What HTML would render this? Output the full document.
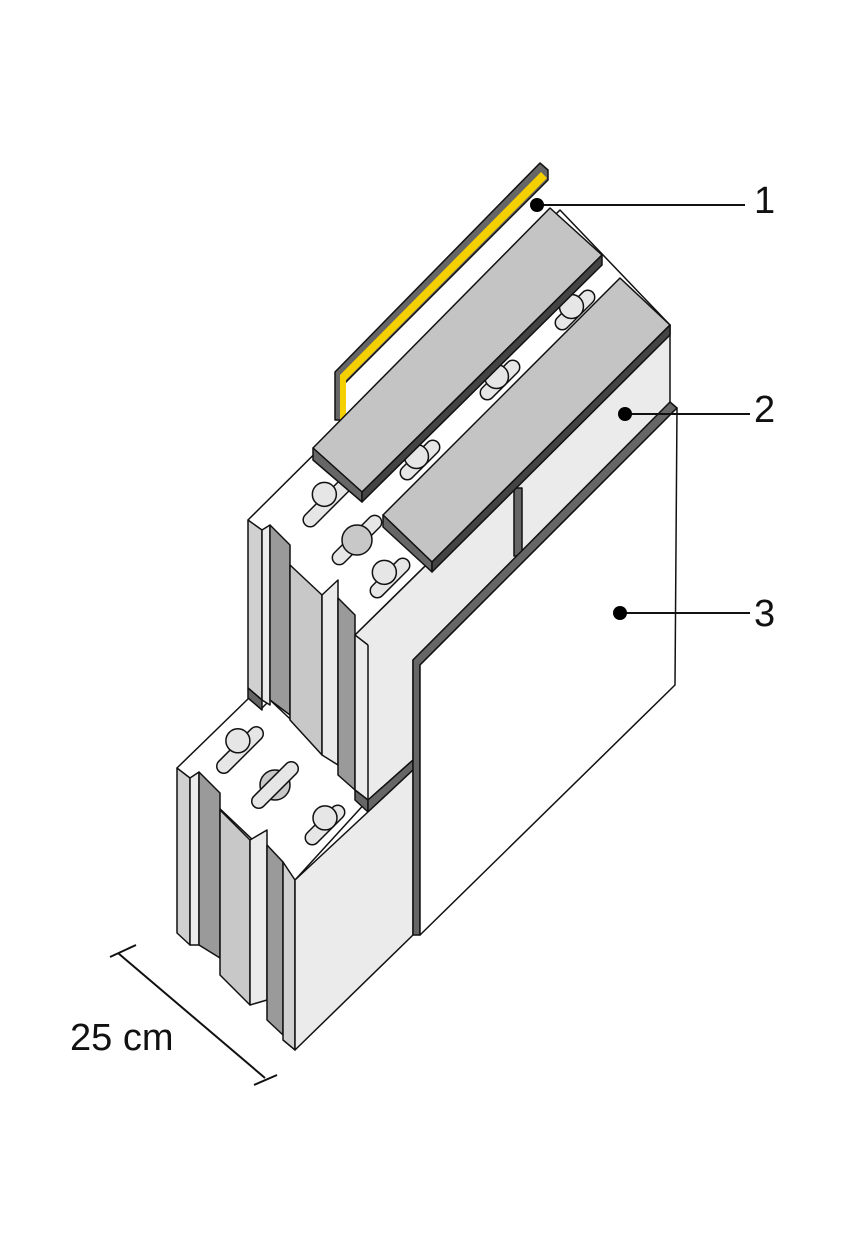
<!DOCTYPE html>
<html><head><style>body{margin:0;background:#fff}svg{display:block}</style></head><body>
<svg width="854" height="1250" viewBox="0 0 854 1250" xmlns="http://www.w3.org/2000/svg" stroke="#111" stroke-width="1.5" stroke-linejoin="round">
<rect width="854" height="1250" fill="#fff" stroke="none"/>
<!-- upper block top -->
<polygon points="248,520 560,210 670,325 355,635" fill="#fff"/>
<!-- lower block top -->
<polygon points="177,768 250,697 262,708 270,700 355,780 368,800 295,880" fill="#fff"/>
<!-- keyholes upper -->
<g fill="#e6e6e6">
<g transform="rotate(-45 330 500)"><rect x="295" y="493" width="70" height="14" rx="7"/><circle cx="330" cy="492" r="12"/></g>
<g transform="rotate(-45 357 540)"><rect x="325" y="533" width="64" height="14" rx="7"/></g>
<circle cx="357" cy="540" r="15" fill="#c8c8c8"/>
<g transform="rotate(-45 390 578)"><rect x="365" y="571" width="50" height="14" rx="7"/><circle cx="390" cy="570" r="12"/></g>
<g transform="rotate(-45 420 460)"><rect x="395" y="453" width="50" height="14" rx="7"/><circle cx="420" cy="455" r="12"/></g>
<g transform="rotate(-45 500 380)"><rect x="475" y="373" width="50" height="14" rx="7"/><circle cx="500" cy="375" r="12"/></g>
<g transform="rotate(-45 575 310)"><rect x="550" y="303" width="50" height="14" rx="7"/><circle cx="575" cy="305" r="12"/></g>
</g>
<!-- keyholes lower -->
<g fill="#e6e6e6">
<g transform="rotate(-45 240 750)"><rect x="210" y="743" width="60" height="14" rx="7"/><circle cx="245" cy="742" r="12"/></g>
<circle cx="275" cy="785" r="15" fill="#c8c8c8"/>
<g transform="rotate(-45 275 785)"><rect x="245" y="778" width="60" height="14" rx="7"/></g>
<g transform="rotate(-45 325 825)"><rect x="300" y="818" width="50" height="14" rx="7"/><circle cx="330" cy="820" r="12"/></g>
</g>
<!-- upper columns -->
<polygon points="248,520 262,530 262,700 248,688" fill="#d0d0d0"/>
<polygon points="262,530 270,525 270,705 262,700" fill="#ebebeb"/>
<polygon points="270,525 290,545 290,715 270,700" fill="#9a9a9a"/>
<polygon points="290,565 322,595 322,755 290,720" fill="#c8c8c8"/>
<polygon points="322,595 338,580 338,765 322,755" fill="#ebebeb"/>
<polygon points="338,598 355,615 355,790 338,775" fill="#9a9a9a"/>
<polygon points="248,688 262,700 262,710 248,698" fill="#666"/>
<!-- lower columns -->
<polygon points="177,768 190,778 190,945 177,933" fill="#d0d0d0"/>
<polygon points="190,778 199,772 199,945 190,945" fill="#ebebeb"/>
<polygon points="199,772 220,793 220,958 199,945" fill="#9a9a9a"/>
<polygon points="220,810 250,840 250,1005 220,975" fill="#c8c8c8"/>
<polygon points="250,840 267,830 267,1000 250,1005" fill="#ebebeb"/>
<polygon points="267,845 283,862 283,1035 267,1020" fill="#9a9a9a"/>
<polygon points="283,862 295,880 295,1050 283,1040" fill="#d0d0d0"/>
<!-- upper front face -->
<polygon points="355,635 670,325 670,405 413,660 413,760 368,800 355,790" fill="#ebebeb"/>
<polygon points="355,790 368,800 368,812 355,800" fill="#666"/>
<polygon points="368,800 413,760 413,770 368,812" fill="#666"/>
<line x1="355" y1="635" x2="368" y2="645" /><line x1="368" y1="645" x2="368" y2="800"/>
<rect x="514" y="488" width="8" height="68" fill="#666"/>
<!-- lower front face -->
<polygon points="295,880 413,770 413,935 295,1050" fill="#ebebeb"/>
<!-- panel 3 -->
<polygon points="413,660 670,402 677,408 420,665 420,935 413,935" fill="#666"/>
<polygon points="420,665 677,408 675,685 420,935" fill="#fff"/>
<!-- yellow strip -->
<polygon points="335,372 540,163 548,170 548,180 343,385 343,420 335,420" fill="#666"/>
<polygon points="340,375 541,172 547,178 346,380 346,420 340,420" fill="#f5d000" stroke="none"/>
<!-- cap 1 -->
<polygon points="313,448 550,208 602,255 362,492" fill="#c4c4c4"/>
<polygon points="313,448 362,492 362,502 313,460" fill="#666"/>
<polygon points="362,492 602,255 602,265 362,502" fill="#444"/>
<!-- cap 2 -->
<polygon points="383,515 620,278 670,325 432,562" fill="#c4c4c4"/>
<polygon points="383,515 432,562 432,572 383,527" fill="#666"/>
<polygon points="432,562 670,325 670,335 432,572" fill="#444"/>
<!-- labels -->
<g stroke-width="2"><line x1="537" y1="205" x2="745" y2="205"/><line x1="625" y1="414" x2="750" y2="414"/><line x1="620" y1="613" x2="750" y2="613"/></g>
<circle cx="537" cy="205" r="7" fill="#000" stroke="none"/>
<circle cx="625" cy="414" r="7" fill="#000" stroke="none"/>
<circle cx="620" cy="613" r="7" fill="#000" stroke="none"/>
<g font-family="Liberation Sans, sans-serif" font-size="38" fill="#111" stroke="none">
<text x="754" y="213">1</text><text x="754" y="422">2</text><text x="754" y="626">3</text>
<text x="70" y="1050">25 cm</text></g>
<g stroke-width="2"><line x1="118" y1="953" x2="265" y2="1078"/>
<line x1="110" y1="957" x2="136" y2="945"/><line x1="254" y1="1085" x2="277" y2="1075"/></g>
</svg>
</body></html>
